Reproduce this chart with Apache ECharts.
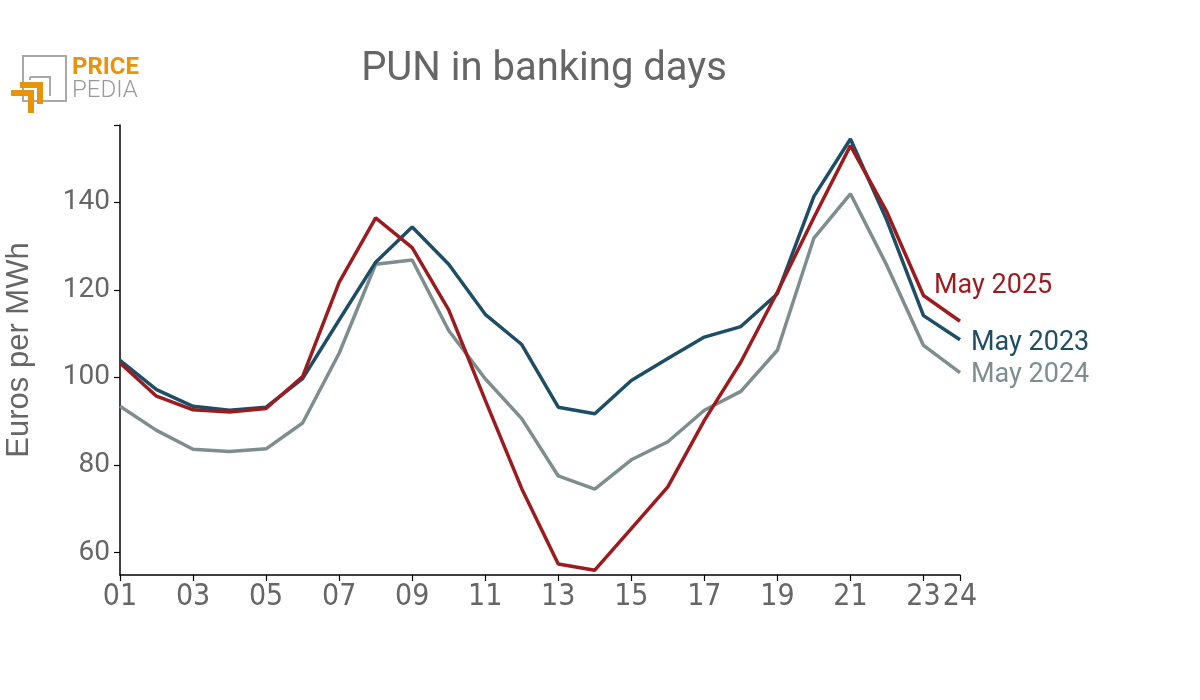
<!DOCTYPE html>
<html>
<head>
<meta charset="utf-8">
<script src="https://cdn.jsdelivr.net/npm/echarts@6/dist/echarts.min.js"></script>
<style>html,body{margin:0;padding:0;background:#fff}#c{width:1200px;height:700px}</style>
</head>
<body>
<div id="c"></div>
<script>
const hours = ['01','02','03','04','05','06','07','08','09','10','11','12','13','14','15','16','17','18','19','20','21','22','23','24'];
const may2023 = [103.9,97.2,93.4,92.5,93.2,99.7,113.1,126.3,134.3,125.8,114.4,107.5,93.2,91.7,99.3,104.3,109.2,111.6,119.1,141.3,154.4,135.8,114.1,108.6];
const may2024 = [93.4,87.9,83.6,83.1,83.7,89.6,105.5,125.8,126.8,110.7,99.7,90.6,77.5,74.5,81.2,85.3,92.5,96.8,106.2,131.8,141.9,125.5,107.3,101.1];
const may2025 = [103.3,95.7,92.6,92.1,92.9,100.2,121.7,136.4,129.6,115.4,94.8,74.6,57.4,56.0,65.5,75.0,90.2,103.5,119.5,136.5,152.9,137.7,118.7,112.8];
const yTicks = [60,80,100,120,140];
const seriesNames = ['May 2024','May 2023','May 2025'];

const RED = '#9C1B1E', BLUE = '#1E4D66', GRAY = '#7E8E8E', TXT = '#666666';
const showIdx = (i) => i % 2 === 0 || i === hours.length - 1;

const chart = echarts.init(document.getElementById('c'));
const yMin = 54.9, yMax = 157.6;
const lineSeries = (name, data, color, offset) => ({
  name, type: 'line', data, symbol: 'none', smooth: false,
  lineStyle: {color, width: 3.5}, itemStyle: {color},
  endLabel: {show: true, formatter: name, color, fontSize: 27, fontFamily: 'Roboto', offset, distance: 5},
  emphasis: {disabled: true}
});

chart.setOption({
  animation: false,
  title: {
    text: 'PUN in banking days', left: 539, top: 45, textAlign: 'center',
    textStyle: {fontFamily: 'Roboto', fontSize: 40, fontWeight: 'normal', color: TXT}
  },
  grid: {left: 120, right: 240, top: 125, bottom: 125, containLabel: false, outerBoundsMode: 'none'},
  xAxis: {
    type: 'category', data: hours, boundaryGap: false,
    axisLine: {lineStyle: {color: '#000', width: 1.5}},
    axisTick: {show: true, interval: (i) => showIdx(i), length: 6, lineStyle: {color: '#000', width: 1.2}},
    axisLabel: {interval: (i) => showIdx(i), fontFamily: "'DejaVu Sans Condensed', 'DejaVu Sans'", fontSize: 30, color: TXT, margin: 7},
    splitLine: {show: false}
  },
  yAxis: {
    type: 'value', min: yMin, max: yMax,
    name: 'Euros per MWh', nameLocation: 'middle', nameGap: 85, nameRotate: 90,
    nameTextStyle: {fontFamily: "'Liberation Sans'", fontSize: 31, color: TXT},
    axisLine: {show: true, lineStyle: {color: '#000', width: 1.5}},
    axisTick: {show: true, customValues: yTicks.concat([yMax]), length: 6, lineStyle: {color: '#000', width: 1.2}},
    axisLabel: {customValues: yTicks, fontFamily: 'Roboto', fontSize: 28, color: TXT, margin: 10},
    splitLine: {show: false}
  },
  series: [
    lineSeries(seriesNames[0], may2024, GRAY, [6, 3]),
    lineSeries(seriesNames[1], may2023, BLUE, [6, 4]),
    lineSeries(seriesNames[2], may2025, RED, [-31, -35])
  ],
  graphic: [
    {type: 'rect', shape: {x: 23, y: 56, width: 43, height: 45}, style: {fill: 'none', stroke: '#A8A8A8', lineWidth: 2}},
    {type: 'polyline', shape: {points: [[30, 77], [50, 77], [50, 96]]}, style: {fill: 'none', stroke: '#A8A8A8', lineWidth: 2}},
    {type: 'polyline', shape: {points: [[30, 77], [30, 80]]}, style: {fill: 'none', stroke: '#A8A8A8', lineWidth: 2}},
    {type: 'polygon', shape: {points: [[20, 82], [43, 82], [43, 104], [37, 104], [37, 88], [20, 88]]}, style: {fill: '#E8930C'}},
    {type: 'polygon', shape: {points: [[11, 90], [34, 90], [34, 113], [28, 113], [28, 96], [11, 96]]}, style: {fill: '#E8930C'}},
    {type: 'text', x: 72, y: 56, style: {text: 'PRICE', fontFamily: 'Roboto', fontWeight: 'bold', fontSize: 24, fill: '#E8930C'}},
    {type: 'text', x: 72, y: 79, style: {text: 'PEDIA', fontFamily: 'Roboto', fontWeight: 300, fontSize: 24, fill: '#9A9A9A'}}
  ]
});
</script>
</body>
</html>
